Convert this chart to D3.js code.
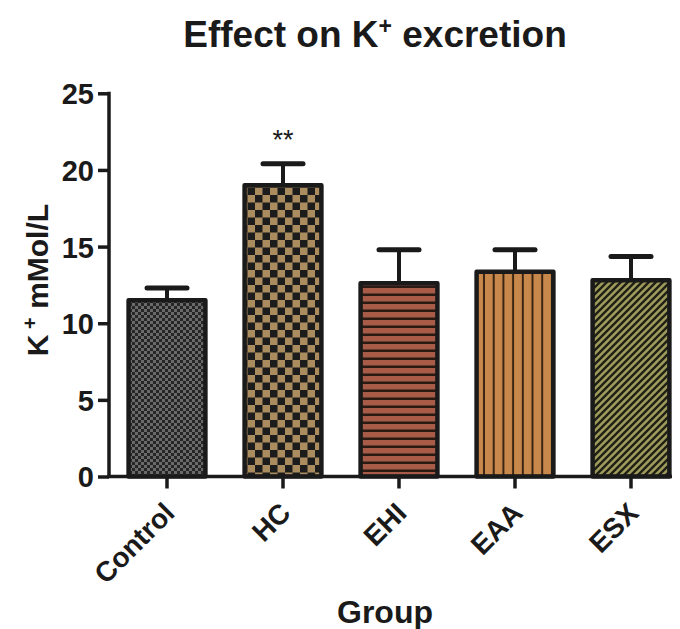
<!DOCTYPE html>
<html>
<head>
<meta charset="utf-8">
<script src="https://cdn.jsdelivr.net/npm/d3@7"></script>
<style>
  html, body { margin: 0; padding: 0; background: #fff; }
  text { font-family: "Liberation Sans", Arial, Helvetica, sans-serif; font-weight: bold; fill: #1a1a1a; }
</style>
</head>
<body>
<svg id="chart" width="680" height="629"></svg>
<script>
// Mean K+ excretion per group with SEM
const groups = ["Control", "HC", "EHI", "EAA", "ESX"];
const means  = [11.5, 19.0, 12.6, 13.35, 12.8];
const errors = [0.8, 1.4, 2.2, 1.45, 1.55];
const significance = ["", "**", "", "", ""];
const yTicks = [0, 5, 10, 15, 20, 25];

const svg = d3.select("#chart");
const ink = "#1a1a1a";

const x = d3.scaleBand().domain(groups).range([109, 689]).paddingInner(0.3).paddingOuter(0.15);
const y = d3.scaleLinear().domain([0, 25]).range([476.5, 93.3]);

// Fill patterns, one per group
const defs = svg.append("defs");
function pat(id, w, h, draw) {
  const p = defs.append("pattern").attr("id", id).attr("patternUnits", "userSpaceOnUse")
    .attr("width", w).attr("height", h);
  draw(p);
}
pat("pControl", 6, 6, p => {
  p.append("rect").attr("width", 6).attr("height", 6).attr("fill", "#6a6a6a");
  p.append("rect").attr("width", 3).attr("height", 3).attr("fill", "#262626");
  p.append("rect").attr("x", 3).attr("y", 3).attr("width", 3).attr("height", 3).attr("fill", "#262626");
});
pat("pHC", 15, 15, p => {
  p.append("rect").attr("width", 15).attr("height", 15).attr("fill", "#ab8c5f");
  p.append("rect").attr("width", 7.5).attr("height", 7.5).attr("fill", "#1c1c1c");
  p.append("rect").attr("x", 7.5).attr("y", 7.5).attr("width", 7.5).attr("height", 7.5).attr("fill", "#1c1c1c");
});
pat("pEHI", 8, 8, p => {
  p.append("rect").attr("width", 8).attr("height", 8).attr("fill", "#a85b47");
  p.append("rect").attr("y", 5.5).attr("width", 8).attr("height", 2.5).attr("fill", "#2a1a14");
});
pat("pEAA", 9.7, 10, p => {
  p.append("rect").attr("width", 9.7).attr("height", 10).attr("fill", "#c9884b");
  p.append("rect").attr("x", 7.7).attr("width", 2).attr("height", 10).attr("fill", "#3a2412");
});
pat("pESX", 7, 7, p => {
  p.append("rect").attr("width", 7).attr("height", 7).attr("fill", "#9e9b5c");
  p.append("path").attr("d", "M-1,1 L1,-1 M0,7 L7,0 M6,8 L8,6")
    .attr("stroke", "#1f1f14").attr("stroke-width", 2.4);
});
const patterns = ["pControl", "pHC", "pEHI", "pEAA", "pESX"];

// Title
const title = svg.append("text").attr("x", 375).attr("y", 47).attr("text-anchor", "middle")
  .style("font-size", "37px");
title.append("tspan").text("Effect on K");
title.append("tspan").text("+").attr("dy", -13).style("font-size", "23px");
title.append("tspan").text(" excretion").attr("dy", 13);

// Error bars (drawn below bars)
const eb = svg.append("g");
groups.forEach((g, i) => {
  const cx = x(g) + x.bandwidth() / 2;
  eb.append("line").attr("x1", cx).attr("x2", cx).attr("y1", y(means[i])).attr("y2", y(means[i] + errors[i]))
    .attr("stroke", ink).attr("stroke-width", 4);
  eb.append("line").attr("x1", cx - 20).attr("x2", cx + 20)
    .attr("y1", y(means[i] + errors[i])).attr("y2", y(means[i] + errors[i]))
    .attr("stroke", ink).attr("stroke-width", 5).attr("stroke-linecap", "round");
});

// Bars
svg.append("g").selectAll("rect").data(groups).join("rect")
  .attr("x", d => x(d) + 2.2)
  .attr("width", x.bandwidth() - 4.4)
  .attr("y", (d, i) => y(means[i]))
  .attr("height", (d, i) => y(0) - y(means[i]))
  .attr("fill", (d, i) => `url(#${patterns[i]})`)
  .attr("stroke", ink).attr("stroke-width", 4.5).attr("stroke-linejoin", "round");

// Significance marks
groups.forEach((g, i) => {
  if (!significance[i]) return;
  svg.append("text").attr("x", x(g) + x.bandwidth() / 2).attr("y", y(means[i] + errors[i]) - 15)
    .attr("text-anchor", "middle").style("font-size", "27px").style("font-weight", "normal")
    .text(significance[i]);
});

// Y axis
const yAxis = svg.append("g").attr("transform", "translate(109,0)")
  .call(d3.axisLeft(y).tickValues(yTicks).tickSize(11).tickSizeOuter(0).tickPadding(4));
yAxis.select(".domain").attr("stroke", ink).attr("stroke-width", 3.5).attr("d", `M0,${y(25) - 1.5}V${y(0) + 1.5}`);
yAxis.selectAll(".tick line").attr("stroke", ink).attr("stroke-width", 3.5);
yAxis.selectAll(".tick text").style("font-size", "29px").attr("dy", "0.36em").attr("fill", ink);

// X axis
const xAxis = svg.append("g").attr("transform", `translate(0,${y(0)})`)
  .call(d3.axisBottom(x).tickSize(12).tickSizeOuter(0));
xAxis.select(".domain").attr("stroke", ink).attr("stroke-width", 3.5).attr("d", "M107.25,0H672");
xAxis.selectAll(".tick line").attr("stroke", ink).attr("stroke-width", 3.5);
xAxis.selectAll(".tick text")
  .style("font-size", "28px").attr("fill", ink)
  .attr("text-anchor", "end")
  .attr("transform", "translate(-5,24) rotate(-45)")
  .attr("x", 0).attr("y", 0).attr("dy", "0.72em");

// Axis titles
svg.append("text").attr("x", 385).attr("y", 623).attr("text-anchor", "middle")
  .style("font-size", "32px").text("Group");
const yl = svg.append("text").attr("transform", "translate(48,280) rotate(-90)")
  .attr("text-anchor", "middle").style("font-size", "30px");
yl.append("tspan").text("K");
yl.append("tspan").text(" +").attr("dy", -11).style("font-size", "20px");
yl.append("tspan").text(" mMol/L").attr("dy", 11);
</script>
</body>
</html>
